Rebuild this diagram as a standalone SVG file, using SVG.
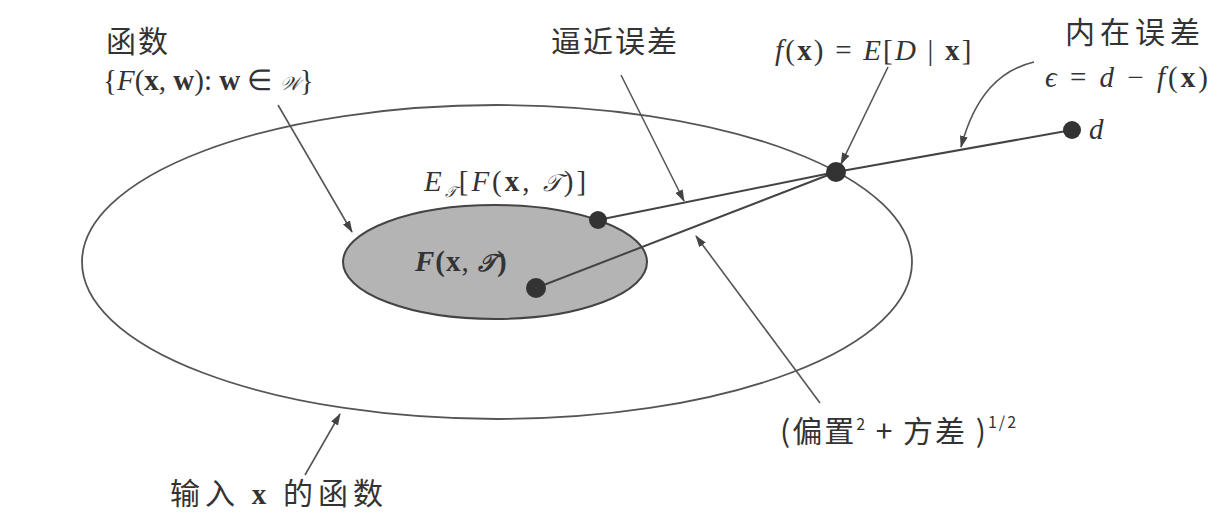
<svg xmlns="http://www.w3.org/2000/svg" width="1218" height="519" viewBox="0 0 1218 519">
<style>
.cn{font-family:"Noto Sans CJK SC","Noto Sans CJK JP",sans-serif;font-size:30px;fill:#333}
.m{font-family:"Liberation Serif",serif;font-size:29px;fill:#333}
.i{font-style:italic}
.b{font-weight:bold}
.ln{stroke:#444;stroke-width:2;fill:none}
.ar{stroke:#555;stroke-width:1.6;fill:none;marker-end:url(#ah)}
.dot{fill:#333}
</style>
<defs>
<marker id="ah" viewBox="0 0 12 8" refX="11" refY="4" markerWidth="12" markerHeight="8" markerUnits="userSpaceOnUse" orient="auto">
<path d="M0,0 L12,4 L0,8 Z" fill="#444"/>
</marker>
</defs>
<rect width="1218" height="519" fill="#fff"/>
<g id="outer-ellipse">
<ellipse cx="497" cy="262" rx="415" ry="157" fill="none" stroke="#555" stroke-width="1.8"/>
</g>
<g id="inner-ellipse">
<ellipse cx="495" cy="262" rx="152" ry="57" fill="#b4b4b4" stroke="#444" stroke-width="2"/>
<text class="m i b" x="415" y="271" letter-spacing="1">F<tspan font-style="normal">(x</tspan><tspan font-style="normal" font-weight="normal">, </tspan><tspan font-size="24">𝒯</tspan><tspan font-style="normal">)</tspan></text>
</g>
<g id="connectors">
<line class="ln" x1="598" y1="220" x2="836" y2="172" stroke-width="1.8"/>
<line class="ln" x1="536" y1="288" x2="836" y2="172" stroke-width="2.6"/>
<line class="ln" x1="836" y1="172" x2="1072" y2="130"/>
<line class="ar" x1="278" y1="105" x2="352" y2="232"/>
<line class="ar" x1="621" y1="75" x2="684" y2="201"/>
<line class="ar" x1="888" y1="67" x2="841" y2="164"/>
<path class="ar" d="M1034,62 C1000,70 975,95 961,147"/>
<line class="ar" x1="820" y1="403" x2="696" y2="236"/>
<line class="ar" x1="305" y1="475" x2="340" y2="414"/>
</g>
<g id="point-mean"><circle class="dot" cx="598" cy="220" r="9"/></g>
<g id="point-F"><circle class="dot" cx="536" cy="288" r="10"/></g>
<g id="point-f"><circle class="dot" cx="836" cy="172" r="10"/></g>
<g id="point-d"><circle class="dot" cx="1072" cy="130" r="9"/><text class="m i" x="1089" y="139">d</text></g>
<g id="label-functions">
<text class="cn" x="138" y="52" text-anchor="middle" letter-spacing="2">函数</text>
<text class="m" x="103" y="90" font-size="23">{<tspan class="i">F</tspan>(<tspan class="b">x</tspan>, <tspan class="b">w</tspan>): <tspan class="b">w</tspan> ∈ <tspan class="i" font-size="19">𝒲</tspan>}</text>
</g>
<g id="label-approx">
<text class="cn" x="615" y="52" text-anchor="middle" letter-spacing="2">逼近误差</text>
</g>
<g id="label-fx">
<text class="m" x="775" y="60" letter-spacing="2.2"><tspan class="i">f</tspan>(<tspan class="b">x</tspan>) = <tspan class="i">E</tspan>[<tspan class="i">D</tspan> | <tspan class="b">x</tspan>]</text>
</g>
<g id="label-intrinsic">
<text class="cn" x="1135" y="43" text-anchor="middle" letter-spacing="5">内在误差</text>
<text class="m" x="1045" y="87" letter-spacing="3"><tspan class="i">ϵ</tspan> = <tspan class="i">d</tspan> − <tspan class="i">f</tspan>(<tspan class="b">x</tspan>)</text>
</g>
<g id="label-mean">
<text class="m" x="424" y="191" letter-spacing="3"><tspan class="i">E</tspan><tspan class="i" font-size="15" dy="6">𝒯</tspan><tspan dy="-6">[</tspan><tspan class="i">F</tspan>(<tspan class="b">x</tspan>, <tspan class="i" font-size="24">𝒯</tspan>)]</text>
</g>
<g id="label-biasvar">
<text class="cn" x="780" y="442" letter-spacing="2">(偏置<tspan font-size="16" dy="-12">2</tspan><tspan dy="12"> + 方差 )</tspan><tspan font-size="16" dy="-14">1/2</tspan></text>
</g>
<g id="label-input">
<text class="cn" x="170" y="504" letter-spacing="5">输入 <tspan class="m b" font-size="28">x</tspan> 的函数</text>
</g>
</svg>
